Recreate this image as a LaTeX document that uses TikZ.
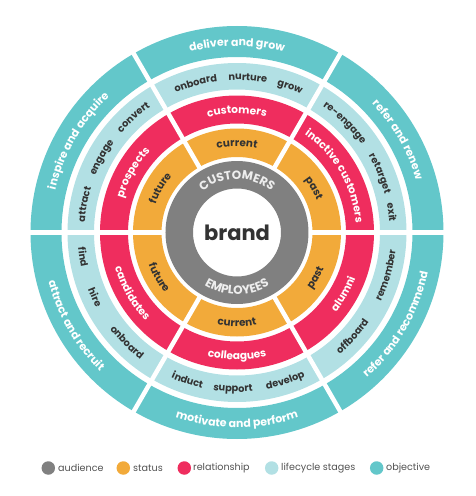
\documentclass[tikz,border=0pt]{standalone}
\usepackage{fontspec}
\setmainfont{Poppins}
\usepackage{tikz}
\usetikzlibrary{decorations.text}

\definecolor{audgray}{HTML}{808080}
\definecolor{statorange}{HTML}{F2AA3A}
\definecolor{relred}{HTML}{EF2D5E}
\definecolor{lifeblue}{HTML}{B2E0E4}
\definecolor{objteal}{HTML}{63C7CA}
\definecolor{txtdark}{HTML}{333333}
\definecolor{capwhite}{HTML}{EEEEEE}

\tikzstyle{ring} = [even odd rule]
\tikzstyle{gapline} = [white, line width=4.5pt]
\tikzstyle{legdot} = [circle, minimum size=13.5pt, inner sep=0pt]
\tikzstyle{legtext} = [anchor=west, inner sep=0pt, text=txtdark!85, font=\fontsize{9.6}{11}\selectfont]

\newcommand{\objfont}{\fontsize{11}{13}\selectfont\bfseries\color{white}}
\newcommand{\lifefont}{\fontsize{9.8}{11}\selectfont\bfseries\color{txtdark}}
\newcommand{\relfont}{\fontsize{10.6}{12}\selectfont\bfseries\color{white}}
\newcommand{\statfont}{\fontsize{10.4}{12}\selectfont\bfseries\color{txtdark}}
\newcommand{\audfont}{\fontsize{12}{14}\selectfont\bfseries\color{capwhite}}

% text on an arc: angle, radius, font, text
\newcommand{\arctop}[4]{\path[decorate, decoration={text along path, text align=center, text={|#3|#4}}]
  ({#1+70}:#2) arc[start angle={#1+70}, end angle={#1-70}, radius=#2];}
\newcommand{\arcbot}[4]{\path[decorate, decoration={text along path, text align=center, text={|#3|#4}}]
  ({#1-70}:#2) arc[start angle={#1-70}, end angle={#1+70}, radius=#2];}

\begin{document}
\begin{tikzpicture}
  \useasboundingbox (-237pt,-263.5pt) rectangle (238pt,232.5pt);

  % rings
  \fill[ring, objteal] (0,0) circle (206.5pt) circle (175.5pt);
  \fill[ring, lifeblue] (0,0) circle (169.5pt) circle (143pt);
  \fill[ring, relred] (0,0) circle (137pt) circle (109pt);
  \fill[ring, statorange] (0,0) circle (104pt) circle (75.5pt);
  \fill[ring, audgray] (0,0) circle (71.5pt) circle (44pt);
  \foreach \a in {0,60,...,300}
    \draw[gapline] (\a:73pt) -- (\a:212pt);

  % objectives
  \arctop{90}{186.5pt}{\objfont}{deliver and grow}
  \arctop{30}{186.5pt}{\objfont}{refer and renew}
  \arctop{150}{186.5pt}{\objfont}{inspire and acquire}
  \arcbot{270}{195pt}{\objfont}{motivate and perform}
  \arcbot{330}{195pt}{\objfont}{refer and recommend}
  \arcbot{210}{195pt}{\objfont}{attract and recruit}

  % lifecycle stages
  \arctop{105.5}{152.5pt}{\lifefont}{onboard}
  \arctop{86}{152.5pt}{\lifefont}{nurture}
  \arctop{70}{152.5pt}{\lifefont}{grow}
  \arctop{45.5}{152.5pt}{\lifefont}{re-engage}
  \arctop{22.5}{152.5pt}{\lifefont}{retarget}
  \arctop{7.5}{152.5pt}{\lifefont}{exit}
  \arctop{169.5}{152.5pt}{\lifefont}{attract}
  \arctop{151}{152.5pt}{\lifefont}{engage}
  \arctop{132}{152.5pt}{\lifefont}{convert}
  \arcbot{-16}{159.5pt}{\lifefont}{remember}
  \arcbot{-42}{159.5pt}{\lifefont}{offboard}
  \arcbot{251.5}{159.5pt}{\lifefont}{induct}
  \arcbot{268.5}{159.5pt}{\lifefont}{support}
  \arcbot{288}{159.5pt}{\lifefont}{develop}
  \arcbot{189}{159.5pt}{\lifefont}{find}
  \arcbot{204.5}{159.5pt}{\lifefont}{hire}
  \arcbot{225}{159.5pt}{\lifefont}{onboard}

  % relationships
  \arctop{90}{119pt}{\relfont}{customers}
  \arctop{30}{119pt}{\relfont}{inactive customers}
  \arctop{150}{119pt}{\relfont}{prospects}
  \arcbot{270}{127pt}{\relfont}{colleagues}
  \arcbot{330}{127pt}{\relfont}{alumni}
  \arcbot{210}{127pt}{\relfont}{candidates}

  % status
  \arctop{90}{86pt}{\statfont}{current}
  \arctop{30}{86pt}{\statfont}{past}
  \arctop{150}{86pt}{\statfont}{future}
  \arcbot{270}{94pt}{\statfont}{current}
  \arcbot{330}{94pt}{\statfont}{past}
  \arcbot{210}{94pt}{\statfont}{future}

  % audience
  \arctop{90}{53.5pt}{\audfont}{CUSTOMERS}
  \arcbot{270}{62pt}{\audfont}{EMPLOYEES}
  \node[font=\fontsize{21}{25}\selectfont\bfseries, text=txtdark] (brand) at (0,0) {brand};

  % legend
  \node[legdot, fill=audgray] (dotaud) at (-188.7pt,-235.5pt) {};
  \node[legtext] (labaud) at (-179pt,-235.5pt) {audience};
  \node[legdot, fill=statorange] (dotstat) at (-113.7pt,-235.5pt) {};
  \node[legtext] (labstat) at (-104pt,-235.5pt) {status};
  \node[legdot, fill=relred] (dotrel) at (-52.7pt,-235.5pt) {};
  \node[legtext] (labrel) at (-44pt,-235.5pt) {relationship};
  \node[legdot, fill=lifeblue] (dotlife) at (34.7pt,-235.5pt) {};
  \node[legtext] (lablife) at (44pt,-235.5pt) {lifecycle stages};
  \node[legdot, fill=objteal] (dotobj) at (139.7pt,-235.5pt) {};
  \node[legtext] (labobj) at (149pt,-235.5pt) {objective};
\end{tikzpicture}
\end{document}
